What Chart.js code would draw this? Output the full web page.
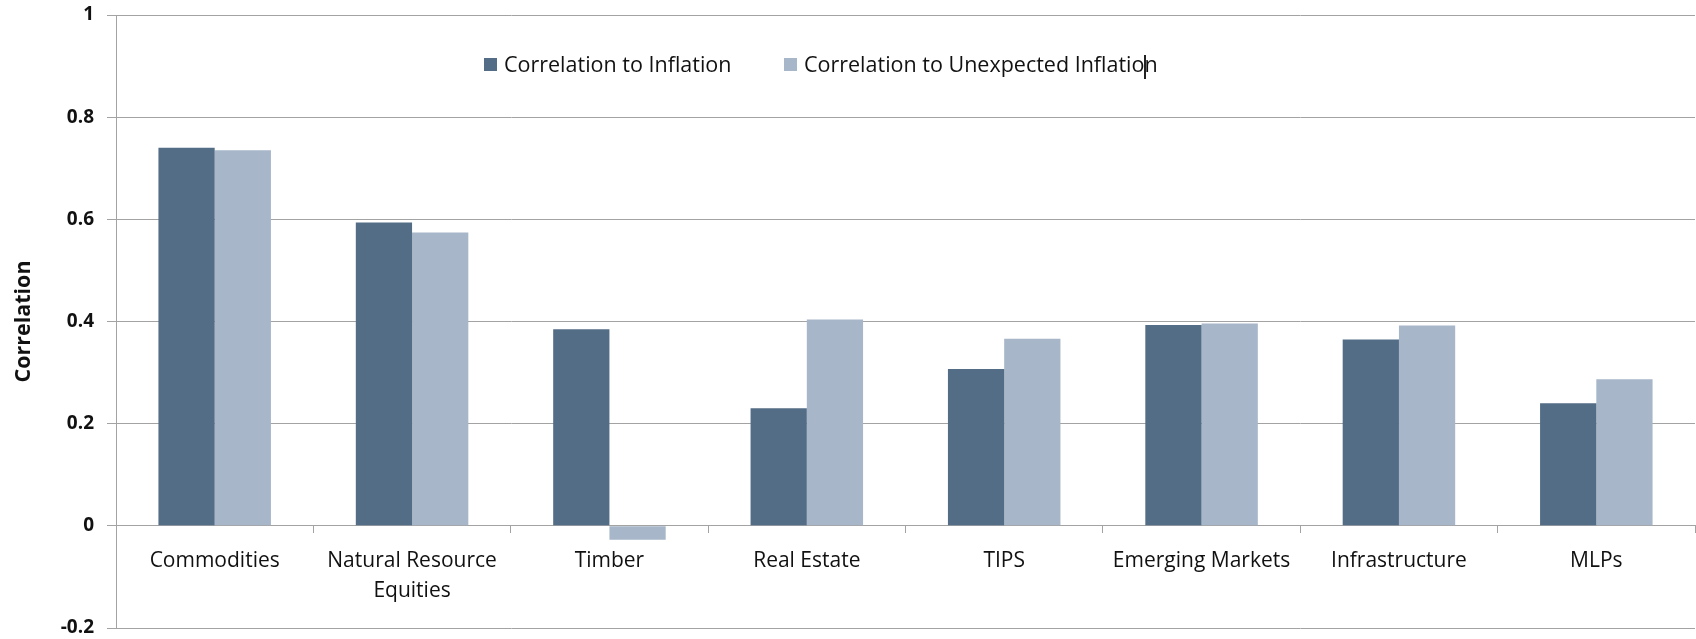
<!DOCTYPE html>
<html><head><meta charset="utf-8">
<script src="https://cdn.jsdelivr.net/npm/chart.js@4.4.1/dist/chart.umd.min.js"></script>
<style>
html,body{margin:0;padding:0;background:#fff;}
#wrap{position:relative;width:1696px;height:639px;}
.item{position:absolute;display:flex;align-items:center;white-space:nowrap;font-family:'Open Sans',sans-serif;font-size:21.5px;color:#111;line-height:26px;}
.sw{width:13px;height:13px;margin-right:7px;flex:none;}
#caret{position:absolute;left:1144px;top:55px;width:1.5px;height:24px;background:#222;}
</style></head>
<body><div id="wrap"><canvas id="c" width="1696" height="639"></canvas><div id="caret"></div></div>
<script>
const categories = ['Commodities', ['Natural Resource', 'Equities'], 'Timber', 'Real Estate', 'TIPS', 'Emerging Markets', 'Infrastructure', 'MLPs'];
const seriesNames = ['Correlation to Inflation', 'Correlation to Unexpected Inflation'];
const corrInflation = [0.740, 0.594, 0.385, 0.230, 0.307, 0.393, 0.365, 0.240];
const corrUnexpected = [0.735, 0.574, -0.027, 0.404, 0.366, 0.396, 0.392, 0.287];
const yTickValues = [-0.2, 0, 0.2, 0.4, 0.6, 0.8, 1];
const yTickLabels = ['-0.2', '0', '0.2', '0.4', '0.6', '0.8', '1'];
const yAxisTitle = 'Correlation';
const seriesColors = ['#536d86', '#a7b6c8'];

const GRID = '#a3a3a3';
Chart.defaults.font.family = "'Open Sans', sans-serif";
Chart.defaults.color = '#111';

// HTML legend (inside the plot, as in the reference)
const legendPos = [484, 784];
seriesNames.forEach((name, i) => {
  const d = document.createElement('div');
  d.className = 'item';
  d.style.left = legendPos[i] + 'px';
  d.style.top = '51px';
  const sw = document.createElement('span');
  sw.className = 'sw';
  sw.style.background = seriesColors[i];
  const t = document.createElement('span');
  t.textContent = name;
  d.appendChild(sw); d.appendChild(t);
  document.getElementById('wrap').appendChild(d);
});

new Chart(document.getElementById('c'), {
  type: 'bar',
  data: {
    labels: categories,
    datasets: [
      { label: seriesNames[0], data: corrInflation, backgroundColor: seriesColors[0], categoryPercentage: 0.57, barPercentage: 1 },
      { label: seriesNames[1], data: corrUnexpected, backgroundColor: seriesColors[1], categoryPercentage: 0.57, barPercentage: 1 }
    ]
  },
  options: {
    responsive: false,
    devicePixelRatio: 1,
    animation: false,
    layout: { padding: { top: 0, right: 1, bottom: 0, left: 0 } },
    plugins: { legend: { display: false }, tooltip: { enabled: false } },
    scales: {
      x: {
        position: { y: 0 },
        offset: true,
        grid: { display: true, drawOnChartArea: false, drawTicks: true, tickLength: 7, color: GRID, offset: true },
        border: { display: true, color: GRID, width: 1 },
        ticks: { autoSkip: false, maxRotation: 0, minRotation: 0, padding: 13, font: { size: 21, lineHeight: 1.45 }, color: '#111' }
      },
      y: {
        min: -0.2, max: 1,
        afterFit: (s) => { s.width = 116; s.paddingTop = 15; s.paddingBottom = 11; },
        afterBuildTicks: (s) => { s.ticks = yTickValues.map(v => ({ value: v })); },
        grid: { color: GRID, lineWidth: 1, drawTicks: true, tickLength: 9 },
        border: { display: true, color: GRID, width: 1 },
        ticks: {
          padding: 13,
          font: { size: 19, weight: 'bold' },
          color: '#111',
          callback: (v) => { const i = yTickValues.findIndex(t => Math.abs(t - v) < 1e-9); return i >= 0 ? yTickLabels[i] : ''; }
        },
        title: { display: true, text: yAxisTitle, font: { size: 21.5, weight: 'bold' }, color: '#111', padding: { top: 11, bottom: 0 } }
      }
    }
  }
});
</script>
</body></html>
